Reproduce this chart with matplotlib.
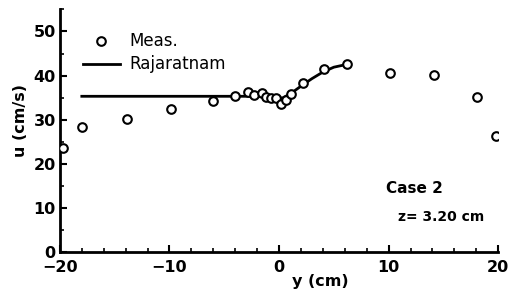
import matplotlib
matplotlib.use("Agg")
import matplotlib.pyplot as plt
from matplotlib.ticker import MultipleLocator

# Measured data
meas_y = [-19.7, -18.0, -13.9, -9.9, -6.0, -4.0, -2.8, -2.3, -1.6, -1.2, -0.7,
          -0.3, 0.2, 0.6, 1.1, 2.2, 4.1, 6.2, 10.1, 14.1, 18.1, 19.8]
meas_u = [23.6, 28.4, 30.2, 32.4, 34.2, 35.3, 36.3, 35.5, 36.1, 35.2, 34.8,
          34.8, 33.6, 34.5, 35.9, 38.4, 41.4, 42.7, 40.5, 40.1, 35.1, 26.2]

# Rajaratnam theory
raj_y = [-18, -6, -2, -0.5, 0.3, 1, 2, 3, 4, 5, 6.3]
raj_u = [35.3, 35.3, 35.3, 35.2, 34.9, 35.8, 37.6, 39.3, 40.8, 41.9, 42.6]

xticks = [-20, -10, 0, 10, 20]
yticks = [0, 10, 20, 30, 40, 50]

plt.rcParams['font.family'] = ['DejaVu Sans']

fig = plt.figure(figsize=(5.12, 2.95), dpi=100)
ax = fig.add_axes([0.117, 0.146, 0.856, 0.822])

ax.plot(raj_y, raj_u, color='black', lw=2.0, label='Rajaratnam', zorder=2)
ax.plot(meas_y, meas_u, linestyle='none', marker='o', markersize=6.2,
        markerfacecolor='white', markeredgecolor='black', markeredgewidth=1.5,
        label='Meas.', zorder=3)

ax.set_xlim(-20, 20)
ax.set_ylim(0, 55)
ax.set_xticks(xticks)
ax.set_yticks(yticks)
ax.xaxis.set_minor_locator(MultipleLocator(2))
ax.yaxis.set_minor_locator(MultipleLocator(5))
ax.set_xticklabels(['\u221220', '\u221210', '0', '10', '20'])

for s in ['top', 'right']:
    ax.spines[s].set_visible(False)
for s in ['left', 'bottom']:
    ax.spines[s].set_linewidth(2.0)

ax.tick_params(which='major', direction='in', length=5, width=1.5,
               labelsize=11.5, pad=3)
ax.tick_params(axis='x', which='major', pad=6)
ax.tick_params(which='minor', direction='in', length=3, width=1.2)
for lbl in ax.get_xticklabels() + ax.get_yticklabels():
    lbl.set_fontweight('bold')

ax.set_xlabel('y (cm)', fontsize=11.5, fontweight='bold')
ax.xaxis.set_label_coords(0.594, -0.09)
ax.set_ylabel('u (cm/s)', fontsize=11.5, fontweight='bold')
ax.yaxis.set_label_coords(-0.073, 0.54)

handles, labels = ax.get_legend_handles_labels()
ax.legend(handles[::-1], labels[::-1], frameon=False, loc='upper left',
          bbox_to_anchor=(0.0525, 0.905), borderpad=0, borderaxespad=0,
          handlelength=2.2, handletextpad=0.6, labelspacing=0.3,
          prop={'size': 12})

ax.text(0.81, 0.26, 'Case 2', transform=ax.transAxes, ha='center', va='center',
        fontsize=11, fontweight='bold')
ax.text(0.87, 0.145, 'z= 3.20 cm', transform=ax.transAxes, ha='center',
        va='center', fontsize=10, fontweight='bold')

fig.savefig('out.png', dpi=100)
